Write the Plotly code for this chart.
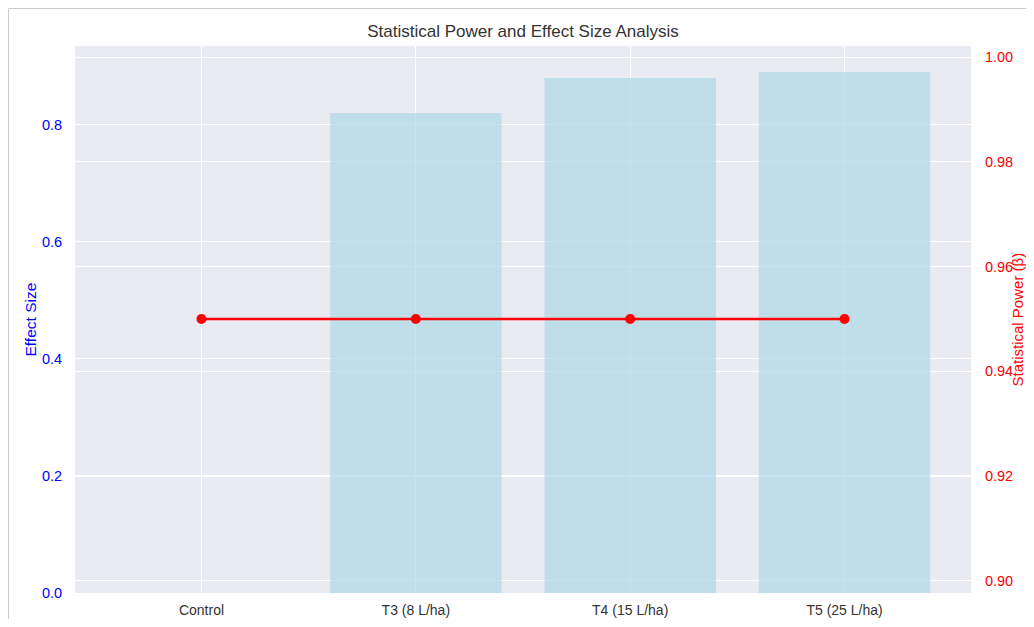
import plotly.graph_objects as go

treatments = ["Control", "T3 (8 L/ha)", "T4 (15 L/ha)", "T5 (25 L/ha)"]
effect_size = [0.0, 0.82, 0.88, 0.89]
power = [0.95, 0.95, 0.95, 0.95]

# the page adds an 8px body margin, so the figure sits at (8, 8)
W, H = 1018, 611
L, R, T, B = 67, 55, 38, 26
pw, ph = W - L - R, H - T - B
FONT = "Liberation Sans, Arial, sans-serif"

fig = go.Figure()
fig.add_trace(go.Bar(x=treatments, y=effect_size, width=0.8,
                     marker=dict(color="#ADD8E6", line=dict(width=0)),
                     opacity=0.7, name="Effect Size", yaxis="y"))
fig.add_trace(go.Scatter(x=treatments, y=power, mode="lines+markers",
                         line=dict(color="red", width=2.5),
                         marker=dict(color="red", size=10),
                         name="Statistical Power", yaxis="y2"))

# thin frame lines (top and left edge of the figure)
fig.add_shape(type="line", xref="paper", yref="paper",
              x0=(0.5 - L) / pw, x1=(W - L) / pw,
              y0=(ph + T - 0.5) / ph, y1=(ph + T - 0.5) / ph,
              line=dict(color="#CCCCCC", width=1), layer="below")
fig.add_shape(type="line", xref="paper", yref="paper",
              x0=(0.5 - L) / pw, x1=(0.5 - L) / pw,
              y0=-B / ph, y1=(ph + T - 0.5) / ph,
              line=dict(color="#CCCCCC", width=1), layer="below")

# axis titles placed as annotations
fig.add_annotation(text="Effect Size", xref="paper", yref="paper",
                   x=(22 - L) / pw, y=0.5, textangle=-90, showarrow=False,
                   xanchor="center", yanchor="middle",
                   font=dict(size=15.5, color="blue"))
fig.add_annotation(text="Statistical Power (β)", xref="paper", yref="paper",
                   x=(1009 - L) / pw, y=0.5, textangle=-90, showarrow=False,
                   xanchor="center", yanchor="middle",
                   font=dict(size=15, color="red"))

hide = "rgba(0,0,0,0)"
fig.update_layout(
    width=W, height=H,
    margin=dict(l=L, r=R, t=T, b=B, autoexpand=False),
    paper_bgcolor="white", plot_bgcolor="#EAEAF2",
    showlegend=False,
    font=dict(family=FONT, color="#333333"),
    title=dict(text="Statistical Power and Effect Size Analysis",
               x=(L + pw / 2) / W, xanchor="center", y=1 - 23 / H, yanchor="middle",
               font=dict(size=17, color="#333333")),
    xaxis=dict(range=[-0.59, 3.59], showgrid=True, gridcolor="white", gridwidth=1,
               ticks="outside", ticklen=4, tickcolor=hide, automargin=False,
               tickfont=dict(size=14, color="#333333"), showline=False, zeroline=False),
    yaxis=dict(range=[0, 0.9345], dtick=0.2, tickformat=".1f", showgrid=True,
               gridcolor="white", gridwidth=1, zeroline=False, automargin=False,
               ticks="outside", ticklen=9, tickcolor=hide,
               tickfont=dict(size=14.5, color="blue")),
    yaxis2=dict(range=[0.8977, 1.0021], dtick=0.02, tickformat=".2f", overlaying="y",
                side="right", showgrid=True, gridcolor="white", gridwidth=1,
                zeroline=False, ticks="outside", ticklen=10, tickcolor=hide,
                automargin=False, tickfont=dict(size=14.5, color="red")),
)

fig.write_html("out.html")
